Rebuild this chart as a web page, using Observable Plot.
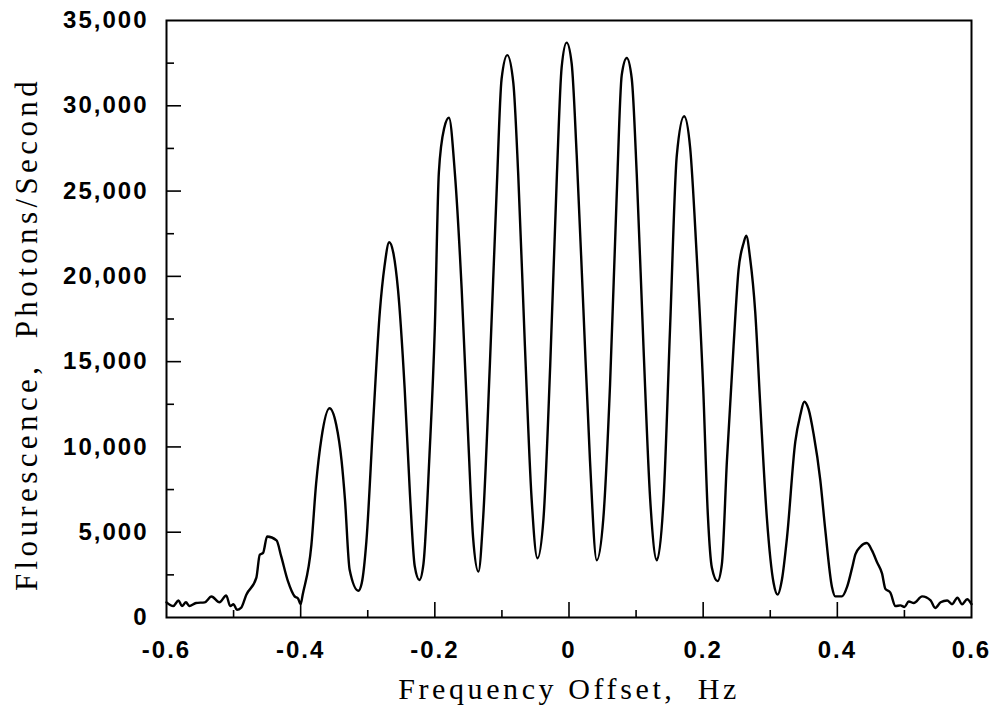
<!DOCTYPE html>
<html><head><meta charset="utf-8">
<script src="https://cdn.jsdelivr.net/npm/d3@7"></script>
<script src="https://cdn.jsdelivr.net/npm/@observablehq/plot@0.6"></script>
<style>html,body{margin:0;padding:0;background:#fff} svg{display:block}</style>
</head><body><div id="chart"></div>
<script>
// Frequency offset (Hz)
const freq = [
  -0.600,-0.590,-0.582,-0.577,-0.571,-0.566,-0.556,-0.543,-0.533,-0.521,-0.511,-0.505,-0.500,-0.495,-0.489,-0.481,
  -0.466,-0.461,-0.456,-0.450,-0.436,-0.429,-0.419,-0.409,-0.404,-0.400,-0.397,-0.384,-0.377,-0.369,-0.357,-0.347,
  -0.339,-0.334,-0.327,-0.314,-0.309,-0.302,-0.292,-0.282,-0.275,-0.268,-0.262,-0.255,-0.245,-0.237,-0.230,-0.223,
  -0.217,-0.208,-0.200,-0.194,-0.186,-0.179,-0.170,-0.160,-0.150,-0.143,-0.135,-0.128,-0.118,-0.108,-0.1005,-0.092,
  -0.083,-0.0757,-0.0657,-0.0557,-0.047,-0.038,-0.028,-0.018,-0.011,-0.0035,0.004,0.0115,0.0214,0.0313,0.0413,0.0512,
  0.0612,0.0712,0.0786,0.0861,0.0936,0.101,0.111,0.121,0.131,0.141,0.1507,0.1607,0.1716,0.1806,0.190,0.200,
  0.207,0.213,0.2214,0.2279,0.2354,0.2453,0.2527,0.2602,0.2642,0.270,0.2776,0.285,0.295,0.305,0.311,0.3175,
  0.325,0.3373,0.3448,0.3507,0.3572,0.3647,0.3746,0.382,0.392,0.397,0.407,0.4145,0.422,0.4269,0.4343,0.444,
  0.4518,0.4592,0.4667,0.4716,0.479,0.4866,0.494,0.500,0.5065,0.514,0.5264,0.539,0.546,0.554,0.5637,0.571,
  0.579,0.586,0.5935,0.600
];
// Fluorescence (photons/second)
const photons = [
  890,670,1000,670,890,670,850,890,1230,890,1290,670,780,450,560,1340,
  2340,3680,3790,4750,4520,3580,2130,1240,1120,780,1340,4260,7830,10520,12270,11300,
  9180,6940,2800,1570,2010,4480,11420,17920,20600,22000,21400,19260,13440,7170,3020,2200,
  3130,9500,17000,26100,28700,29300,25980,19260,10300,4700,2690,5820,14780,24850,31570,32970,
  31350,25980,15900,6940,3470,5820,14780,25980,32240,33700,32470,27090,18130,9180,3360,5820,
  13660,24850,31800,32800,31570,25980,15900,6940,3360,6940,17020,27090,29390,27540,21490,13500,
  6000,2910,2130,3130,9180,15900,20370,21940,22390,21050,17920,12540,5820,2020,1340,2240,
  4700,10300,11870,12650,12200,10740,8060,5150,1790,1240,1240,1790,2910,3700,4150,4370,
  3920,3240,2570,1680,1460,670,710,620,940,850,1240,1000,560,890,1000,780,
  1160,780,1070,780
];

const xTicks = [-0.6, -0.4, -0.2, 0, 0.2, 0.4, 0.6];
const xMinorTicks = [-0.5, -0.3, -0.1, 0.1, 0.3, 0.5];
const yTicks = [0, 5000, 10000, 15000, 20000, 25000, 30000, 35000];
const yMinorTicks = [2500, 7500, 12500, 17500, 22500, 27500, 32500];
const xTitle = "Frequency Offset,\u00A0 Hz";
const yTitle = "Flourescence,\u00A0 Photons/Second";

const W = 1006, H = 713, mL = 166, mR = 35, mT = 20, mB = 96;
const xDomain = [-0.6, 0.6], yDomain = [0, 35000];
const dataPerPxX = (xDomain[1] - xDomain[0]) / (W - mL - mR);
const dataPerPxY = (yDomain[1] - yDomain[0]) / (H - mT - mB);

const data = freq.map((f, i) => ({f, v: photons[i]}));
const sans = "'Liberation Sans', Arial, Helvetica, sans-serif";
const serif = "'Liberation Serif', 'Times New Roman', Times, serif";

const chart = Plot.plot({
  width: W, height: H,
  marginLeft: mL, marginRight: mR, marginTop: mT, marginBottom: mB,
  style: {background: "white", color: "black", overflow: "visible"},
  x: {domain: xDomain, label: null},
  y: {domain: yDomain, label: null},
  marks: [
    // inward ticks on left axis
    Plot.ruleY(yTicks.slice(1, -1), {y: d => d, x1: xDomain[0], x2: xDomain[0] + 15 * dataPerPxX, stroke: "black", strokeWidth: 1.6}),
    Plot.ruleY(yMinorTicks, {y: d => d, x1: xDomain[0], x2: xDomain[0] + 8 * dataPerPxX, stroke: "black", strokeWidth: 1.6}),
    // inward ticks on bottom axis
    Plot.ruleX(xTicks.slice(1, -1), {x: d => d, y1: yDomain[0], y2: yDomain[0] + 15 * dataPerPxY, stroke: "black", strokeWidth: 1.6}),
    Plot.ruleX(xMinorTicks, {x: d => d, y1: yDomain[0], y2: yDomain[0] + 7 * dataPerPxY, stroke: "black", strokeWidth: 1.6}),
    Plot.axisX(xTicks, {tickSize: 0, tickPadding: 23, tickFormat: d => String(d), fontSize: 24, fontWeight: "bold", fontFamily: sans, label: null}),
    Plot.axisY(yTicks, {tickSize: 0, tickPadding: 18, tickFormat: d3.format(","), fontSize: 24, fontWeight: "bold", fontFamily: sans, label: null}),
    Plot.line(data, {x: "f", y: "v", stroke: "black", strokeWidth: 2.4, curve: "monotone-x"}),
    Plot.frame({stroke: "black", strokeWidth: 2}),
    Plot.text([xTitle], {text: d => d, frameAnchor: "bottom", dy: 81, lineAnchor: "bottom", textAnchor: "middle", fontSize: 30, fontFamily: serif}),
    Plot.text([yTitle], {text: d => d, frameAnchor: "left", dx: -130, dy: 15, rotate: -90, lineAnchor: "bottom", textAnchor: "middle", fontSize: 31, fontFamily: serif})
  ]
});

// letter spacing to match the wide lettering of the original
chart.querySelectorAll('g[aria-label$="tick label"]').forEach(g => g.style.letterSpacing = "2px");
chart.querySelectorAll("text").forEach(t => {
  if (t.textContent === xTitle) t.style.letterSpacing = "3.6px";
  if (t.textContent === yTitle) t.style.letterSpacing = "4.4px";
});
document.getElementById("chart").appendChild(chart);
</script>
</body></html>
